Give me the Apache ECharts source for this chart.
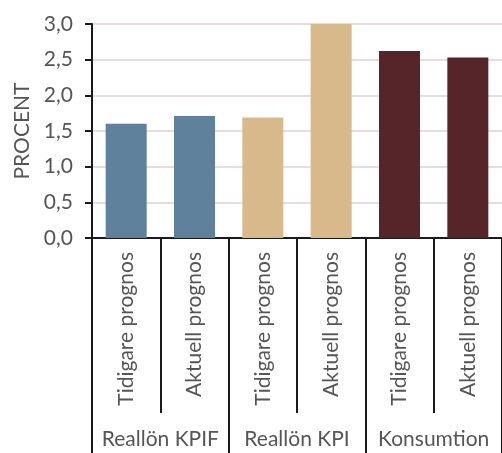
<!DOCTYPE html>
<html>
<head>
<meta charset="utf-8">
<script src="https://cdn.jsdelivr.net/npm/echarts@6/dist/echarts.min.js"></script>
<style>
  html, body { margin: 0; padding: 0; background: #fff; overflow: hidden; }
  #chart { width: 502px; height: 453px; }
</style>
</head>
<body>
<div id="chart"></div>
<script>
// Forecast comparison per group
const groups = ['Reallön KPIF', 'Reallön KPI', 'Konsumtion'];
const categories = ['Tidigare prognos', 'Aktuell prognos', 'Tidigare prognos', 'Aktuell prognos', 'Tidigare prognos', 'Aktuell prognos'];
const categoryGroup = [0, 0, 1, 1, 2, 2];
const values = [1.6, 1.71, 1.69, 3.0, 2.62, 2.53];
const groupColors = ['#5f819c', '#d8b98b', '#55252a'];
const yTicks = { min: 0, max: 3, interval: 0.5 };

const FONT = 'Lato';
const TEXT = '#555555';

const chart = echarts.init(document.getElementById('chart'), null, { renderer: 'canvas' });

chart.setOption({
  animation: false,
  backgroundColor: '#ffffff',
  grid: { left: 92, top: 24, width: 418, height: 214 },
  xAxis: [
    {
      type: 'category',
      data: categories,
      position: 'bottom',
      axisLine: { show: true, lineStyle: { color: '#1a1a1a', width: 2 } },
      axisTick: { show: true, interval: 0, length: 175, lineStyle: { color: '#1a1a1a', width: 2 } },
      axisLabel: {
        interval: 0, rotate: 90, margin: 14,
        fontFamily: FONT, fontSize: 21, color: TEXT
      }
    },
    {
      type: 'category',
      data: groups,
      position: 'bottom',
      axisLine: { show: false },
      axisTick: { show: true, interval: 0, length: 220, lineStyle: { color: '#1a1a1a', width: 2 } },
      axisLabel: {
        interval: 0, margin: 191,
        fontFamily: FONT, fontSize: 21, color: TEXT
      }
    }
  ],
  yAxis: {
    type: 'value',
    min: yTicks.min, max: yTicks.max, interval: yTicks.interval,
    name: 'PROCENT',
    nameLocation: 'middle',
    nameGap: 58,
    nameRotate: 90,
    nameTextStyle: { fontFamily: FONT, fontSize: 21, color: TEXT },
    axisLine: { show: true, lineStyle: { color: '#1a1a1a', width: 2 } },
    axisTick: { show: true, length: 7, lineStyle: { color: '#1a1a1a', width: 2 } },
    axisLabel: {
      margin: 19, fontFamily: FONT, fontSize: 21, color: TEXT,
      formatter: v => v.toFixed(1).replace('.', ',')
    },
    splitLine: { show: true, lineStyle: { color: '#e6dedc', width: 2 } }
  },
  series: [{
    type: 'bar',
    xAxisIndex: 0,
    barWidth: 41,
    data: values.map((v, i) => ({
      value: v,
      itemStyle: { color: groupColors[categoryGroup[i]] }
    }))
  }]
});
</script>
</body>
</html>
